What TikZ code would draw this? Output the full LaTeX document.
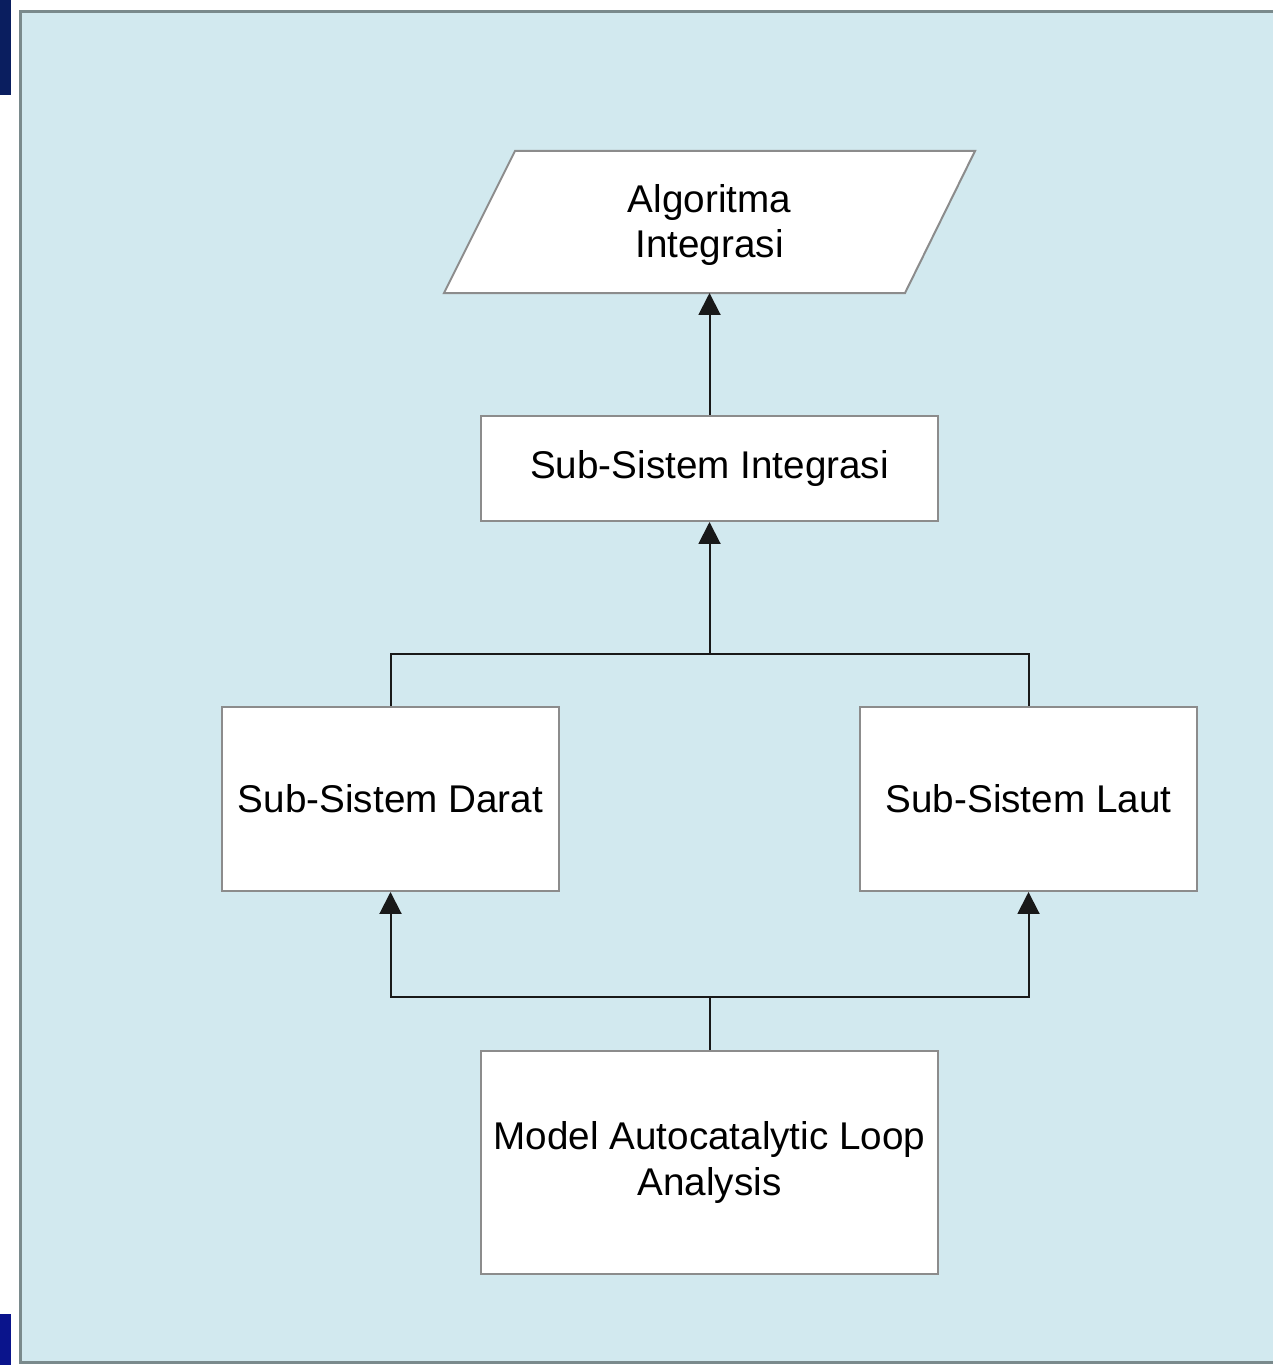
\documentclass[tikz,border=0pt]{standalone}
\usepackage{fontspec}
\setmainfont{Liberation Sans}
\usetikzlibrary{arrows.meta}
\definecolor{panel}{RGB}{210,233,239}
\definecolor{panelrim}{RGB}{122,138,140}
\definecolor{boxrim}{RGB}{140,140,140}
\definecolor{navytop}{RGB}{10,30,95}
\definecolor{navybot}{RGB}{10,20,140}
\tikzset{
  box/.style={draw=boxrim, line width=0.04cm, fill=white, align=center,
    font=\fontsize{22pt}{26pt}\selectfont, inner sep=0pt},
  link/.style={draw=black!90, line width=0.04cm},
  arrowlink/.style={link, -{Triangle[length=0.44cm,width=0.44cm]}},
  label/.style={align=center, font=\fontsize{22pt}{26pt}\selectfont}
}
\begin{document}
\begin{tikzpicture}[x=0.02cm, y=-0.02cm]
\useasboundingbox (0,0) rectangle (1273,1365);
% slide edge markers
\fill[navytop] (0,0) rectangle (11,95);
\fill[navybot] (0,1314) rectangle (11,1365);
% panel
\draw[panelrim, fill=panel, line width=0.06cm] (20.5,11.5) rectangle (1290,1362.5);

% parallelogram output
\draw[boxrim, fill=white, line width=0.04cm]
  (515,151) -- (975,151) -- (905,293) -- (444,293) -- cycle;
\node[label] (algo) at (709.5,225) {Algoritma\\Integrasi};
\coordinate (algoB) at (709.5,293);

% boxes
\node[box, minimum width=9.14cm, minimum height=2.1cm] (integ) at (709.5,468.5) {Sub-Sistem Integrasi};
\node[box, minimum width=6.74cm, minimum height=3.68cm] (darat) at (390.5,799) {Sub-Sistem Darat};
\node[box, minimum width=6.74cm, minimum height=3.68cm] (laut) at (1028.5,799) {Sub-Sistem Laut};
\node[box, minimum width=9.14cm, minimum height=4.46cm] (model) at (709.5,1162.5) {Model Autocatalytic Loop\\Analysis};

\coordinate (join) at (709.5,654);
\coordinate (split) at (709.5,997);

% connectors
\draw[arrowlink] (integ.north) -- (algoB);
\draw[link] (darat.north) |- (join) -| (laut.north);
\draw[arrowlink] (join) -- (integ.south);
\draw[link] (model.north) -- (split);
\draw[arrowlink] (split) -| (darat.south);
\draw[arrowlink] (split) -| (laut.south);
\end{tikzpicture}
\end{document}
